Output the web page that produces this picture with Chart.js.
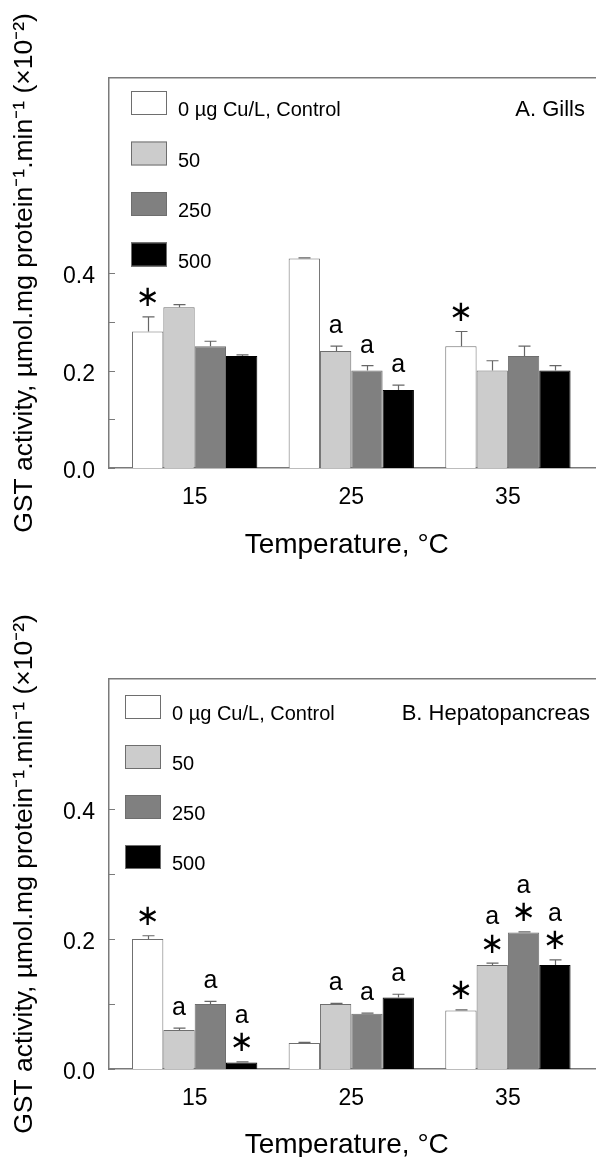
<!DOCTYPE html>
<html>
<head>
<meta charset="utf-8">
<script src="https://cdn.jsdelivr.net/npm/chart.js@4.4.1/dist/chart.umd.min.js"></script>
<style>
  html, body { margin: 0; padding: 0; background: #fff; overflow: hidden; }
  #wrap { position: relative; width: 596px; height: 1157px; overflow: hidden; }
  canvas { position: absolute; left: 0; }
  #gills { top: 0; }
  #hepato { top: 600px; }
</style>
</head>
<body>
<div id="wrap">
  <canvas id="gills" width="600" height="600"></canvas>
  <canvas id="hepato" width="600" height="600"></canvas>
</div>
<script>
// temperatures (x) and copper levels (series)
const temps = [15, 25, 35]
const seriesNames = ['0 µg Cu/L, Control', '50', '250', '500']
const seriesColors = ['#ffffff', '#cccccc', '#808080', '#000000']
const yTicks = [0, 0.1, 0.2, 0.3, 0.4]
const yLabelled = [0, 0.2, 0.4]

// A. Gills
const gillsControl = [0.28, 0.43, 0.25]
const gills50 = [0.33, 0.24, 0.20]
const gills250 = [0.25, 0.20, 0.23]
const gills500 = [0.23, 0.16, 0.20]
const gillsErr = [[0.03, 0.001, 0.03], [0.005, 0.01, 0.02], [0.01, 0.01, 0.02], [0.002, 0.01, 0.01]]
const gillsMarks = [[['*'], [], ['*']], [[], ['a'], []], [[], ['a'], []], [[], ['a'], []]]

// B. Hepatopancreas
const hepControl = [0.20, 0.04, 0.09]
const hep50 = [0.06, 0.10, 0.16]
const hep250 = [0.10, 0.085, 0.21]
const hep500 = [0.01, 0.11, 0.16]
const hepErr = [[0.005, 0.001, 0.001], [0.003, 0.001, 0.003], [0.004, 0.001, 0.001], [0.001, 0.005, 0.008]]
const hepMarks = [[['*'], [], ['*']], [['a'], ['a'], ['*', 'a']], [['a'], ['a'], ['*', 'a']], [['*', 'a'], ['a'], ['*', 'a']]]

const axisGrey = '#7a7a7a'
const FONT = "'Liberation Sans', Arial, sans-serif"
const yTitle = 'GST activity, µmol.mg protein⁻¹.min⁻¹ (×10⁻²)'

function centeredText(ctx, txt, x, cy) {
    let m = ctx.measureText(txt)
    ctx.fillText(txt, x, cy + (m.actualBoundingBoxAscent - m.actualBoundingBoxDescent) / 2)
}

const decor = {
    id: 'decor',
    afterDatasetsDraw(chart, args, opts) {
        const { ctx, chartArea, scales } = chart
        const y = scales.y
        ctx.save()

        // tick marks inside the frame
        ctx.strokeStyle = axisGrey
        ctx.lineWidth = 1
        yTicks.forEach(v => {
            let py = Math.round(y.getPixelForValue(v)) + 0.5
            ctx.beginPath()
            ctx.moveTo(chartArea.left, py)
            ctx.lineTo(chartArea.left + 6, py)
            ctx.stroke()
        })

        // error bars and significance marks
        chart.data.datasets.forEach((ds, i) => {
            let meta = chart.getDatasetMeta(i)
            meta.data.forEach((bar, j) => {
                let top = y.getPixelForValue(ds.data[j].y + opts.errors[i][j])
                let x = Math.round(bar.x) + 0.5
                ctx.strokeStyle = '#666'
                ctx.lineWidth = 1.2
                ctx.beginPath()
                ctx.moveTo(x, bar.y)
                ctx.lineTo(x, top)
                ctx.moveTo(x - 6, top)
                ctx.lineTo(x + 6, top)
                ctx.stroke()

                let cy = top - 20
                opts.marks[i][j].forEach(m => {
                    ctx.fillStyle = '#000'
                    ctx.textAlign = 'center'
                    ctx.textBaseline = 'alphabetic'
                    if (m === '*') {
                        ctx.font = "29px 'DejaVu Sans', sans-serif"
                        centeredText(ctx, '∗', bar.x, cy)
                    } else {
                        ctx.font = `25px ${FONT}`
                        centeredText(ctx, m, bar.x, cy)
                    }
                    cy -= 26
                })
            })
        })

        // legend inside the frame
        let lg = opts.legend
        seriesNames.forEach((name, i) => {
            let bx = chartArea.left + lg.dx
            let by = chartArea.top + lg.dy + i * lg.step
            ctx.fillStyle = seriesColors[i]
            ctx.fillRect(bx, by, 36, 24)
            ctx.strokeStyle = '#6e6e6e'
            ctx.lineWidth = 1
            ctx.strokeRect(bx + 0.5, by + 0.5, 35, 23)
            ctx.fillStyle = '#000'
            ctx.font = `20px ${FONT}`
            ctx.textAlign = 'left'
            ctx.textBaseline = 'alphabetic'
            ctx.fillText(name, bx + 47, by + 25)
        })

        // panel label
        ctx.font = `22px ${FONT}`
        ctx.textAlign = 'right'
        ctx.fillText(opts.panel, opts.panelX, chartArea.top + lg.dy + 25)
        ctx.restore()
    }
}

function makeChart(id, values, errors, marks, yMax, panel, panelX, legend) {
    let ctx = document.getElementById(id).getContext('2d')
    let datasets = values.map((vals, i) => ({
        label: seriesNames[i],
        data: temps.map((t, j) => ({ x: t, y: vals[j] })),
        backgroundColor: seriesColors[i],
        borderColor: i === 3 ? '#000' : '#6e6e6e',
        borderWidth: 1,
        categoryPercentage: 0.8,
        barPercentage: 1.0,
    }))

    return new Chart(ctx, {
        type: 'bar',
        data: { datasets: datasets },
        plugins: [decor],
        options: {
            responsive: false,
            animation: false,
            devicePixelRatio: 1,
            layout: { padding: { top: legend.top, left: 0, right: 0, bottom: 0 } },
            plugins: {
                legend: { display: false },
                tooltip: { enabled: false },
                decor: { errors: errors, marks: marks, panel: panel, panelX: panelX, legend: legend },
            },
            scales: {
                x: {
                    type: 'linear',
                    position: 'bottom',
                    offset: false,
                    min: 9.53,
                    max: 40.88,
                    afterBuildTicks: scale => { scale.ticks = temps.map(t => ({ value: t })) },
                    afterFit: scale => { scale.height = legend.xHeight },
                    grid: { display: false, drawTicks: false },
                    border: { display: true, color: axisGrey, width: 1.5 },
                    ticks: {
                        padding: 16,
                        color: '#000',
                        font: { family: FONT, size: 23 },
                        callback: v => String(v),
                    },
                    title: {
                        display: true,
                        text: 'Temperature, °C\u00a0\u00a0',
                        color: '#000',
                        font: { family: FONT, size: 28 },
                        padding: { top: 0, bottom: 38 },
                    },
                },
                xTop: {
                    type: 'linear',
                    position: 'top',
                    min: 9.53,
                    max: 40.88,
                    afterFit: scale => { scale.height = 0 },
                    grid: { display: false, drawTicks: false },
                    border: { display: true, color: axisGrey, width: 1.5 },
                    ticks: { display: false },
                },
                y: {
                    min: 0,
                    max: yMax,
                    afterBuildTicks: scale => { scale.ticks = yTicks.map(v => ({ value: v })) },
                    afterFit: scale => { scale.width = 109 },
                    grid: { display: false, drawTicks: false },
                    border: { display: true, color: axisGrey, width: 1.5 },
                    ticks: {
                        padding: 14,
                        labelOffset: 4,
                        color: '#000',
                        font: { family: FONT, size: 23 },
                        callback: v => yLabelled.includes(v) ? v.toFixed(1) : '',
                    },
                    title: {
                        display: true,
                        text: yTitle,
                        color: '#000',
                        font: { family: FONT, size: 26.5 },
                        padding: { top: 9, bottom: 0 },
                    },
                },
            },
        },
    })
}

makeChart('gills', [gillsControl, gills50, gills250, gills500], gillsErr, gillsMarks, 0.8,
    'A. Gills', 585, { top: 78, xHeight: 132, dx: 22, dy: 13, step: 50.5 })
makeChart('hepato', [hepControl, hep50, hep250, hep500], hepErr, hepMarks, 0.6,
    'B. Hepatopancreas', 590, { top: 79, xHeight: 131, dx: 16, dy: 16, step: 50 })
</script>
</body>
</html>
